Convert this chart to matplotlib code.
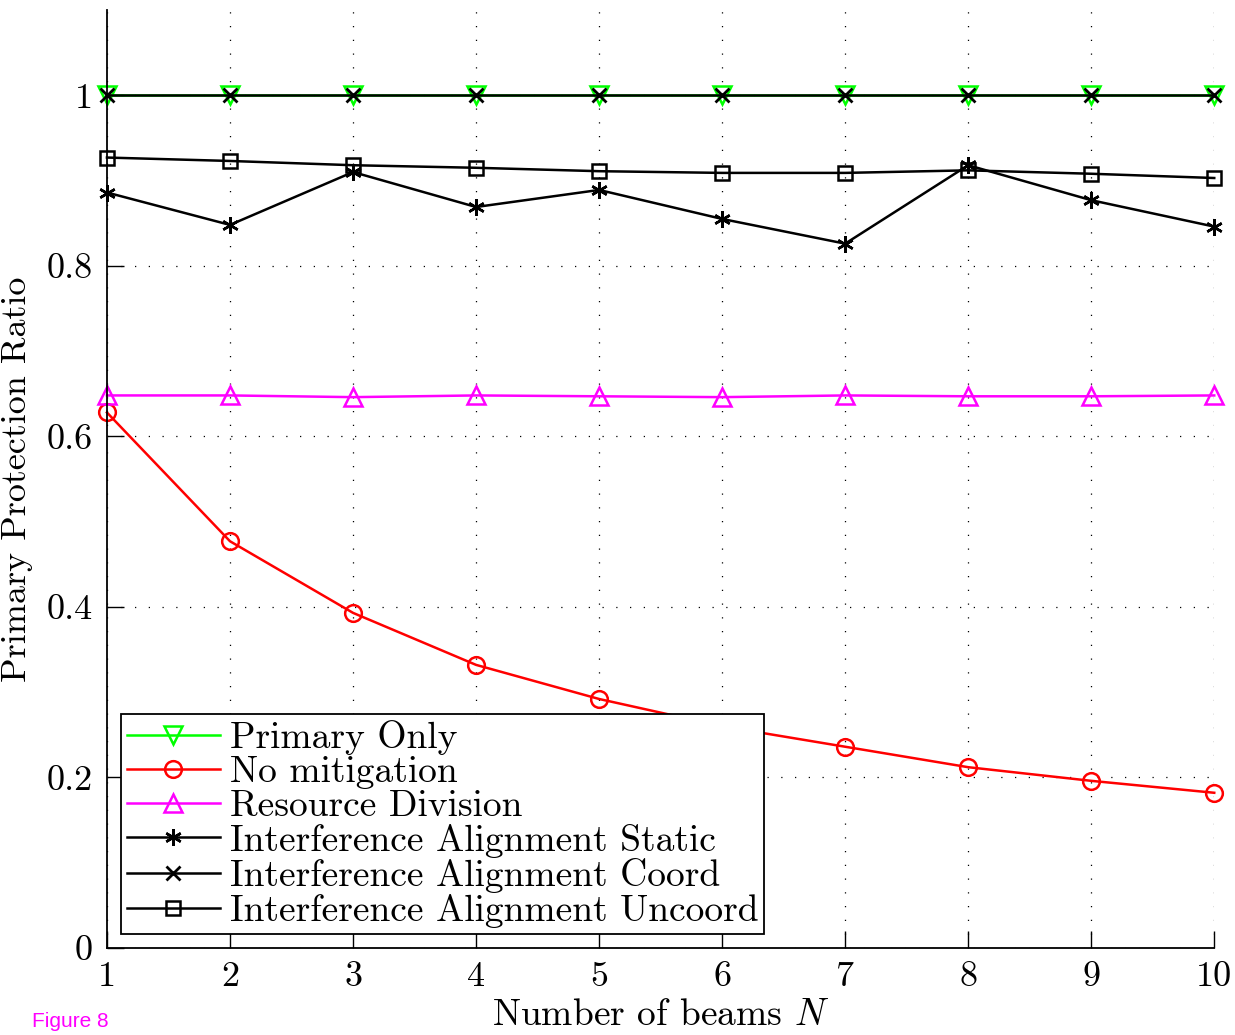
import matplotlib
matplotlib.use("Agg")
import matplotlib.pyplot as plt

# beams N on the x axis
beams = [1, 2, 3, 4, 5, 6, 7, 8, 9, 10]

primary_only = [1.0, 1.0, 1.0, 1.0, 1.0, 1.0, 1.0, 1.0, 1.0, 1.0]
no_mitigation = [0.628, 0.477, 0.393, 0.332, 0.292, 0.260, 0.236, 0.212, 0.196, 0.182]
resource_division = [0.648, 0.648, 0.646, 0.648, 0.647, 0.646, 0.648, 0.647, 0.647, 0.648]
ia_static = [0.886, 0.848, 0.910, 0.869, 0.889, 0.855, 0.826, 0.918, 0.877, 0.846]
ia_coord = [1.0, 1.0, 1.0, 1.0, 1.0, 1.0, 1.0, 1.0, 1.0, 1.0]
ia_uncoord = [0.927, 0.923, 0.918, 0.915, 0.911, 0.909, 0.909, 0.912, 0.908, 0.903]

y_ticks = [0, 0.2, 0.4, 0.6, 0.8, 1.0]
y_tick_labels = ["0", "0.2", "0.4", "0.6", "0.8", "1"]

plt.rcParams["font.family"] = ["cmr10", "DejaVu Serif"]
plt.rcParams["mathtext.fontset"] = "cm"
plt.rcParams["axes.formatter.use_mathtext"] = True

fig = plt.figure(figsize=(12.35, 10.35), dpi=100)
ax = fig.add_axes([0.0866, 0.0841, 0.8966, 0.9062])

lw = 1.8
common = dict(lw=lw, clip_on=False)
ax.plot(beams, primary_only, color=(0, 1, 0), marker="v", ms=13,
        mfc="none", mew=1.8, label="Primary Only", **common)
ax.plot(beams, no_mitigation, color="red", marker="o", ms=12,
        mfc="none", mew=1.8, label="No mitigation", **common)
ax.plot(beams, resource_division, color=(1, 0, 1), marker="^", ms=13,
        mfc="none", mew=1.8, label="Resource Division", **common)
ax.plot(beams, ia_static, color="black", marker=(6, 2, 0), ms=12,
        mew=1.8, label="Interference Alignment Static", **common)
ax.plot(beams, ia_coord, color="black", marker="x", ms=10,
        mew=2.0, label="Interference Alignment Coord", **common)
ax.plot(beams, ia_uncoord, color="black", marker="s", ms=10,
        mfc="none", mew=1.8, label="Interference Alignment Uncoord", **common)

ax.set_xlim(1, 10)
ax.set_ylim(0, 1.1)
ax.set_xticks(beams)
ax.set_xticklabels([str(b) for b in beams])
ax.set_yticks(y_ticks)
ax.set_yticklabels(y_tick_labels)

ax.spines["top"].set_visible(False)
ax.spines["right"].set_visible(False)
for s in ("left", "bottom"):
    ax.spines[s].set_linewidth(1.3)
ax.tick_params(direction="in", length=12, width=1.0, labelsize=26, pad=10)
ax.grid(True, color="black", linestyle=(0, (1, 10)), linewidth=0.9)

ax.set_xlabel(r"Number of beams $N$", fontsize=27, labelpad=4)
ax.set_ylabel("Primary Protection Ratio", fontsize=26, labelpad=10)

leg = ax.legend(loc="lower left", bbox_to_anchor=(0.0126, 0.0152), fontsize=27,
                handlelength=2.5, handletextpad=0.25, labelspacing=0.02,
                borderpad=0.15, borderaxespad=0, fancybox=False, framealpha=1)
leg.get_frame().set_edgecolor("black")
leg.get_frame().set_linewidth(1.3)

fig.text(0.026, 0.008, "Figure 8", color=(1, 0, 1), fontsize=15,
         family="Liberation Sans")

fig.savefig("out.png", dpi=100)
